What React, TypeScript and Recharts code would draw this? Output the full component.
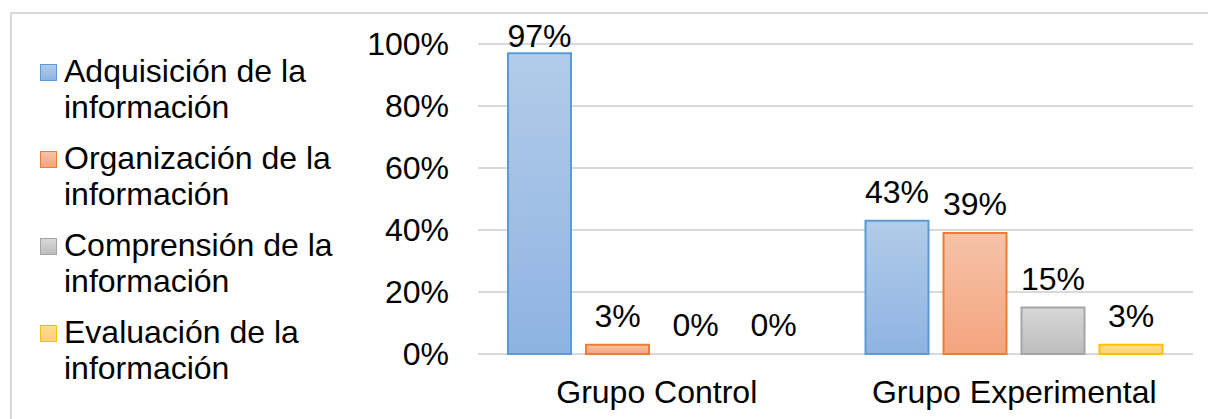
import React from "react";
import {
  BarChart,
  Bar,
  XAxis,
  YAxis,
  CartesianGrid,
  Legend,
  LabelList,
  Rectangle,
} from "recharts";

const categories = ["Grupo Control", "Grupo Experimental"];

const seriesNames = [
  "Adquisición de la información",
  "Organización de la información",
  "Comprensión de la información",
  "Evaluación de la información",
];

const adquisicion = [97, 43];
const organizacion = [3, 39];
const comprension = [0, 15];
const evaluacion = [0, 3];

const yTicks = [0, 20, 40, 60, 80, 100];

const seriesValues = [adquisicion, organizacion, comprension, evaluacion];
const keys = ["s0", "s1", "s2", "s3"];

// stroke, gradient top, gradient bottom
const palette = [
  { stroke: "#5b9bd5", top: "#b2cce9", bottom: "#8eb3e2" },
  { stroke: "#ed7d31", top: "#f6c3a9", bottom: "#f4a47d" },
  { stroke: "#a5a5a5", top: "#d8d8d8", bottom: "#bdbdbd" },
  { stroke: "#ffc000", top: "#ffdc90", bottom: "#ffd276" },
];

const data = categories.map((name, i) => {
  const row: Record<string, string | number> = { name };
  seriesValues.forEach((vals, s) => {
    row[keys[s]] = vals[i];
  });
  return row;
});

const FONT = "Arial, 'Liberation Sans', sans-serif";

const pct = (v: any) => `${v}%`;

// legend keeps the series order instead of the sorted payload
function LegendBox() {
  return (
    <div style={{ fontFamily: FONT, fontSize: 32, lineHeight: "36px", color: "#000" }}>
      {seriesNames.map((name, i) => (
        <div key={name} style={{ display: "flex", marginBottom: 15 }}>
          <span
            style={{
              width: 15,
              height: 15,
              marginTop: 11,
              marginRight: 7,
              flex: "none",
              border: `1.5px solid ${palette[i].stroke}`,
              background: `linear-gradient(${palette[i].top}, ${palette[i].bottom})`,
            }}
          />
          <span style={{ width: 285 }}>{name}</span>
        </div>
      ))}
    </div>
  );
}

// zero values keep their label but draw no rectangle
const barShape = (k: string) => (props: any) =>
  props.payload && props.payload[k] === 0 ? <g /> : <Rectangle {...props} />;

// value label above the bar, held inside the plot near the top
function ValueLabel(props: any) {
  const { x, y, width, value } = props;
  const baseline = Math.max(Number(y) - 18, 47);
  return (
    <text
      x={Number(x) + Number(width) / 2}
      y={baseline}
      textAnchor="middle"
      fill="#000"
      fontSize={32}
      fontFamily={FONT}
    >
      {pct(value)}
    </text>
  );
}

export default function App() {
  return (
    <div
      style={{
        position: "fixed",
        left: 0,
        top: 0,
        width: 1208,
        height: 419,
        overflow: "hidden",
        background: "#fff",
      }}
    >
      <div
        style={{
          position: "absolute",
          left: 10,
          top: 12,
          width: 1210,
          height: 420,
          border: "2px solid #d9d9d9",
        }}
      />
      <BarChart
        width={1208}
        height={419}
        data={data}
        margin={{ top: 44, right: 15, left: 10, bottom: 0 }}
        barCategoryGap={30}
        barGap={15}
        style={{ position: "absolute", left: 0, top: 0 }}
      >
        <defs>
          {palette.map((c, i) => (
            <linearGradient key={i} id={`grad${i}`} x1="0" y1="0" x2="0" y2="1">
              <stop offset="0%" stopColor={c.top} />
              <stop offset="100%" stopColor={c.bottom} />
            </linearGradient>
          ))}
        </defs>
        <CartesianGrid vertical={false} stroke="#d9d9d9" strokeWidth={2} />
        <XAxis
          dataKey="name"
          axisLine={false}
          tickLine={false}
          tickSize={0}
          tickMargin={26}
          height={65}
          tick={{ fill: "#000", fontSize: 32, fontFamily: FONT }}
        />
        <YAxis
          domain={[0, 100]}
          ticks={yTicks}
          tickFormatter={pct}
          axisLine={false}
          tickLine={false}
          tickSize={0}
          tickMargin={29}
          width={168}
          tick={{ fill: "#000", fontSize: 32, fontFamily: FONT }}
        />
        <Legend
          layout="vertical"
          align="left"
          verticalAlign="top"
          content={<LegendBox />}
          wrapperStyle={{ width: 300, left: 40, top: 53 }}
        />
        {keys.map((k, i) => (
          <Bar
            key={k}
            dataKey={k}
            name={seriesNames[i]}
            fill={`url(#grad${i})`}
            stroke={palette[i].stroke}
            strokeWidth={2}
            minPointSize={0.01}
            shape={barShape(k)}
            isAnimationActive={false}
          >
            <LabelList dataKey={k} content={<ValueLabel />} />
          </Bar>
        ))}
      </BarChart>
    </div>
  );
}
